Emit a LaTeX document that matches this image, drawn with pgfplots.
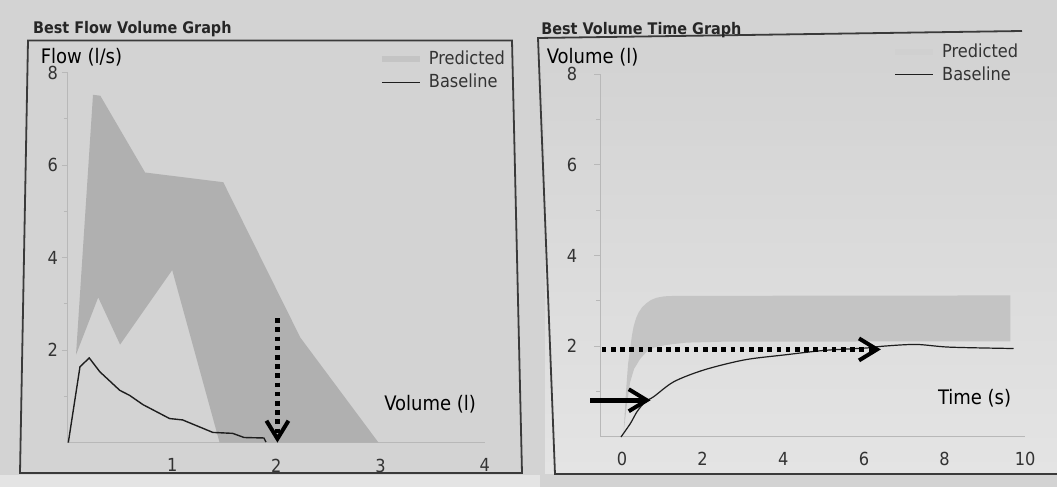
\documentclass[border=0pt]{standalone}
\usepackage{fontspec}
\setmainfont{DejaVu Sans Condensed}
\usepackage{pgfplots}
\pgfplotsset{compat=1.18}
\usetikzlibrary{arrows.meta}
\definecolor{bg}{HTML}{D3D3D3}
\definecolor{bgR}{HTML}{E4E4E4}
\definecolor{bandL}{HTML}{B0B0B0}
\definecolor{bandR}{HTML}{C4C4C4}
\definecolor{axcol}{HTML}{B8B8B8}
\definecolor{txt}{HTML}{333333}
\definecolor{boxcol}{HTML}{3A3A3A}
\definecolor{curve}{HTML}{1E1E1E}

\pgfplotsset{
  panel/.style={
    scale only axis,
    axis lines=left,
    axis line style={draw=axcol, line width=0.5pt, -},
    tick align=outside,
    major tick length=3pt, minor tick length=2pt,
    ytick style={draw=axcol, line width=0.4pt},
    xtick style={draw=none},
    ytick={2,4,6,8}, minor ytick={1,3,5,7},
    ymin=0, ymax=8,
    /pgf/number format/assume math mode=true,
    ticklabel style={font=\fontsize{9}{10}\selectfont, text=txt},
    clip=false,
    label style={font=\fontsize{9}{10}\selectfont, text=txt},
    legend cell align=left,
    legend image code/.code={\draw[##1] (0pt,0pt) -- (19pt,0pt);},
    legend style={draw=none, fill=none, inner sep=0pt,
      font=\fontsize{9}{10}\selectfont, text=txt,
      nodes={inner xsep=3pt, inner ysep=1.6pt}, row sep=0pt},
  }
}

\begin{document}
\begin{tikzpicture}
\useasboundingbox (0,0) rectangle (528.5pt,243.5pt);
\fill[bg] (0,0) rectangle (528.5pt,243.5pt);
\begin{scope}[x=0.5pt,y=-0.5pt,shift={(0pt,243.5pt)}]
  \shade[top color=bg, bottom color=bgR] (545,60) rectangle (1057,474);
  \fill[bg!60!white] (0,475) rectangle (540,487);
  % panel boxes
  \draw[boxcol, line width=0.9pt] (28,40.5) -- (512,40.5) -- (522,473) -- (20,473) -- cycle;
  \draw[boxcol, line width=0.9pt] (1022,31) -- (538,38) -- (555,474) -- (1057,474);
  \node[anchor=base west, inner sep=0pt, font=\bfseries\fontsize{8}{9}\selectfont, text=black!85] at (32.7,33.5) {Best Flow Volume Graph};
  \node[anchor=base west, inner sep=0pt, font=\bfseries\fontsize{8}{9}\selectfont, text=black!85] at (541,35) {Best Volume Time Graph};
\end{scope}

% ---------------- Left: flow-volume ----------------
\begin{axis}[panel,
  at={(34pt,22.2pt)}, anchor=south west,
  width=208.4pt, height=185pt,
  xmin=0, xmax=4,
  xtick={1,2,3,4},
  xticklabel style={yshift=-1.6pt},
  yticklabel style={xshift=1.5pt},
  ylabel={Flow (l/s)}, xlabel={Volume (l)},
  every axis y label/.style={at={(axis description cs:-0.082,1.042)}, anchor=west, rotate=0},
  every axis x label/.style={at={(axis description cs:0.869,0.104)}, anchor=center},
  legend style={at={(0.745,1.068)}, anchor=north west},
]
\addlegendimage{line width=3pt, color=bandL!75!white}
\addlegendentry{Predicted}
\addlegendimage{line width=0.5pt, color=curve}
\addlegendentry{Baseline}

\addplot[fill=bandL, draw=none, forget plot] coordinates {
  (0.077,1.9) (0.24,7.52) (0.31,7.5) (0.74,5.84) (1.49,5.63) (2.23,2.27) (2.98,0)
  (1.455,0) (1.0,3.73) (0.5,2.12) (0.29,3.14)
};
\addplot[curve, line width=0.7pt, forget plot] coordinates {
  (0.003,0) (0.115,1.64) (0.204,1.83) (0.306,1.53) (0.497,1.13) (0.592,1.02)
  (0.72,0.82) (0.975,0.52) (1.10,0.49) (1.39,0.22) (1.58,0.20) (1.69,0.11)
  (1.88,0.10) (1.90,0.01)
};
\addplot[black, line width=2.2pt, dash pattern=on 2.3pt off 2.3pt,
  -{Straight Barb[length=9pt, width=11pt, line width=2pt]}, forget plot]
  coordinates {(2.01,2.69) (2.01,0.0)};
\end{axis}

% ---------------- Right: volume-time ----------------
\begin{axis}[panel,
  at={(300.1pt,25pt)}, anchor=south west,
  width=212.5pt, height=181.5pt,
  xmin=-0.54, xmax=10,
  xtick={0,2,4,6,8,10},
  xticklabel style={yshift=-1pt},
  yticklabel style={xshift=-5pt},
  ylabel={Volume (l)}, xlabel={Time (s)},
  every axis y label/.style={at={(axis description cs:-0.142,1.047)}, anchor=west, rotate=0},
  every axis x label/.style={at={(axis description cs:0.881,0.107)}, anchor=center},
  legend style={at={(0.686,1.094)}, anchor=north west},
]
\addlegendimage{line width=3pt, color=bandR!80!white}
\addlegendentry{Predicted}
\addlegendimage{line width=0.5pt, color=curve}
\addlegendentry{Baseline}

\addplot[fill=bandR, draw=none, forget plot] coordinates {
  (0.04,0.09) (0.1,1.0) (0.15,1.6) (0.2,1.93) (0.25,2.25) (0.29,2.44) (0.35,2.62)
  (0.41,2.74) (0.5,2.86) (0.61,2.95) (0.72,3.02) (0.86,3.07) (1.05,3.10) (1.3,3.11)
  (9.63,3.12) (9.63,2.11) (2.5,2.1) (1.6,2.08) (1.1,2.03) (0.8,1.97) (0.6,1.87)
  (0.45,1.72) (0.3,1.5) (0.2,1.2) (0.12,0.7)
};
\addplot[curve, line width=0.6pt, smooth, tension=0.5, forget plot] coordinates {
  (-0.025,0) (0.21,0.30) (0.375,0.56) (0.58,0.78) (0.79,0.89) (1.29,1.22)
  (2.04,1.48) (3.04,1.70) (4.04,1.81) (5.04,1.91) (6.04,1.96) (6.46,2.0)
  (7.29,2.04) (8.13,1.98) (9.71,1.95)
};
\addplot[black, line width=2.2pt, dash pattern=on 2.3pt off 2.3pt,
  -{Straight Barb[length=9pt, width=11pt, line width=2pt]}, forget plot]
  coordinates {(-0.5,1.93) (6.42,1.93)};
\addplot[black, line width=2.4pt,
  -{Straight Barb[length=9pt, width=11pt, line width=2pt]}, forget plot]
  coordinates {(-0.79,0.81) (0.71,0.81)};
\end{axis}
\end{tikzpicture}
\end{document}
